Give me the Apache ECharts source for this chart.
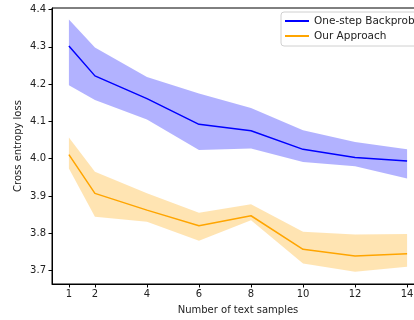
<!DOCTYPE html>
<html>
<head>
<meta charset="utf-8"/>
<script src="https://cdn.jsdelivr.net/npm/echarts@6/dist/echarts.min.js"></script>
<style>
  html, body { margin: 0; padding: 0; background: #fff; overflow: hidden; }
  #main { width: 440px; height: 320px; }
</style>
</head>
<body>
<div id="main"></div>
<script>
// samples on the x axis
var samples = [1, 2, 4, 6, 8, 10, 12, 14];

// One-step Backprob
var backMean  = [4.302, 4.222, 4.161, 4.092, 4.075, 4.025, 4.003, 3.994];
var backUpper = [4.373, 4.298, 4.219, 4.175, 4.136, 4.076, 4.045, 4.025];
var backLower = [4.197, 4.157, 4.105, 4.023, 4.027, 3.991, 3.980, 3.947];

// Our Approach
var oursMean  = [4.011, 3.907, 3.862, 3.820, 3.847, 3.757, 3.739, 3.745];
var oursUpper = [4.057, 3.965, 3.907, 3.855, 3.878, 3.804, 3.797, 3.798];
var oursLower = [3.974, 3.844, 3.831, 3.780, 3.835, 3.719, 3.697, 3.710];

var xTicks = [1, 2, 4, 6, 8, 10, 12, 14];
var yTicks = [3.7, 3.8, 3.9, 4.0, 4.1, 4.2, 4.3, 4.4];

function pairs(ys) {
  return samples.map(function (x, i) { return [x, ys[i]]; });
}

// shaded band between lower and upper, drawn as one polygon
function band(name, lo, up, color) {
  return {
    name: name, type: 'custom', silent: true, z: 1,
    data: samples.map(function (x, i) { return [x, lo[i], up[i]]; }),
    encode: { x: 0, y: [1, 2] },
    renderItem: function (params, api) {
      if (params.dataIndex !== 0) return;
      var pts = [];
      for (var i = 0; i < samples.length; i++) pts.push(api.coord([samples[i], up[i]]));
      for (var j = samples.length - 1; j >= 0; j--) pts.push(api.coord([samples[j], lo[j]]));
      return {
        type: 'polygon',
        shape: { points: pts },
        style: { fill: color, opacity: 0.3 }
      };
    }
  };
}

var chart = echarts.init(document.getElementById('main'));
var font = 'DejaVu Sans';

chart.setOption({
  animation: false,
  textStyle: { fontFamily: font },
  grid: { left: 52, top: 8, width: 372, height: 276, show: true,
          borderColor: '#000', borderWidth: 1 },
  legend: {
    data: ['One-step Backprob', 'Our Approach'],
    orient: 'vertical', left: 281, top: 12,
    icon: 'rect', itemWidth: 24, itemHeight: 2, itemGap: 3,
    padding: [3, 10, 4, 4],
    borderColor: '#d0d0d0', borderWidth: 1, borderRadius: 3,
    backgroundColor: '#fff',
    textStyle: { fontSize: 10.5, lineHeight: 12, color: '#222', fontFamily: font }
  },
  xAxis: {
    type: 'value', min: 0.35, max: 14.65,
    name: 'Number of text samples', nameLocation: 'middle', nameGap: 21,
    nameMoveOverlap: false,
    nameTextStyle: { fontSize: 10, color: '#222', fontFamily: font },
    splitLine: { show: false },
    axisLine: { lineStyle: { color: '#000' } },
    axisTick: { customValues: xTicks, length: 3.5, lineStyle: { color: '#000' } },
    axisLabel: { customValues: xTicks, fontSize: 10, color: '#222', margin: 5 }
  },
  yAxis: {
    type: 'value', min: 3.664, max: 4.404,
    name: 'Cross entropy loss', nameLocation: 'middle', nameGap: 29,
    nameMoveOverlap: false,
    nameTextStyle: { fontSize: 10, color: '#222', fontFamily: font },
    splitLine: { show: false },
    axisLine: { show: true, lineStyle: { color: '#000' } },
    axisTick: { show: true, customValues: yTicks, length: 3.5, lineStyle: { color: '#000' } },
    axisLabel: { customValues: yTicks, fontSize: 10, color: '#222', margin: 6,
                 formatter: function (v) { return v.toFixed(1); } }
  },
  series: [
    band('backBand', backLower, backUpper, '#0000ff'),
    band('oursBand', oursLower, oursUpper, '#ffa500'),
    { name: 'One-step Backprob', type: 'line', data: pairs(backMean), symbol: 'none',
      color: '#0000ff', lineStyle: { width: 1.5, color: '#0000ff' }, z: 3 },
    { name: 'Our Approach', type: 'line', data: pairs(oursMean), symbol: 'none',
      color: '#ffa500', lineStyle: { width: 1.5, color: '#ffa500' }, z: 3 }
  ]
});
</script>
</body>
</html>
